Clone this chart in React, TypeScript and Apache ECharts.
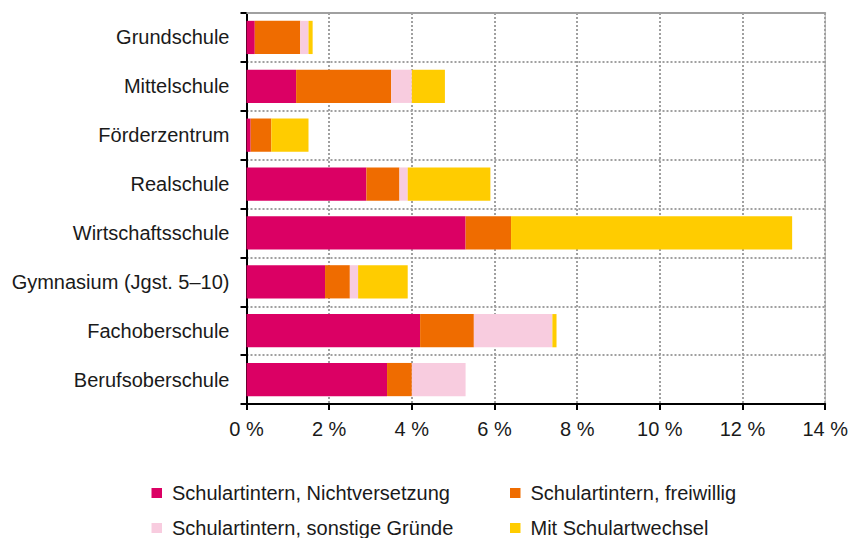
import React, { useEffect, useRef } from "react";
import * as echarts from "echarts";

const categories = [
  "Grundschule",
  "Mittelschule",
  "Förderzentrum",
  "Realschule",
  "Wirtschaftsschule",
  "Gymnasium (Jgst. 5–10)",
  "Fachoberschule",
  "Berufsoberschule",
];
const nichtversetzung = [0.2, 1.2, 0.1, 2.9, 5.3, 1.9, 4.2, 3.4];
const freiwillig = [1.1, 2.3, 0.5, 0.8, 1.1, 0.6, 1.3, 0.6];
const sonstige = [0.2, 0.5, 0, 0.2, 0, 0.2, 1.9, 1.3];
const wechsel = [0.1, 0.8, 0.9, 2.0, 6.8, 1.2, 0.1, 0];

const seriesNames = [
  "Schulartintern, Nichtversetzung",
  "Schulartintern, freiwillig",
  "Schulartintern, sonstige Gründe",
  "Mit Schulartwechsel",
];
const colors = ["#DB0064", "#EF6C00", "#F8CCDF", "#FFCC00"];
const legendPos = [
  { left: 151.5, top: 483 },
  { left: 510, top: 483 },
  { left: 151.5, top: 518 },
  { left: 510, top: 518 },
];

export default function App() {
  const ref = useRef<HTMLDivElement>(null);
  useEffect(() => {
    if (!ref.current) return;
    const chart = echarts.init(ref.current, undefined, { renderer: "svg" });
    const font = "Liberation Sans";
    const fs = 20;
    const dotted = { color: "#a0a0a0", width: 2, type: [2, 2] as any };
    const data = [nichtversetzung, freiwillig, sonstige, wechsel];
    chart.setOption({
      animation: false,
      textStyle: { fontFamily: font },
      grid: {
        left: 246.5,
        right: 25,
        top: 13,
        bottom: 134,
        show: true,
        borderColor: "#a0a0a0",
        borderWidth: 1,
      },
      legend: seriesNames.map((n, i) => ({
        ...legendPos[i],
        padding: 0,
        orient: "horizontal",
        icon: "rect",
        itemWidth: 10.5,
        itemHeight: 10,
        textStyle: {
          fontSize: fs,
          lineHeight: 20,
          color: "#1a1a1a",
          fontFamily: font,
          padding: [0, 0, 0, 5],
        },
        data: [n],
      })),
      xAxis: [
        {
          type: "value",
          min: 0,
          max: 14,
          interval: 2,
          axisLine: { show: true, lineStyle: { color: "#000", width: 2 } },
          axisTick: { show: true, length: 6, lineStyle: { color: "#000", width: 2 } },
          axisLabel: {
            fontSize: fs,
            fontFamily: font,
            color: "#1a1a1a",
            margin: 15,
            formatter: (v: number) => `${v} %`,
          },
          splitLine: { show: true, lineStyle: dotted },
        },
        {
          type: "value",
          position: "top",
          min: 0,
          max: 14,
          interval: 2,
          axisLine: { show: true, lineStyle: { color: "#a0a0a0", width: 2 } },
          axisTick: { show: false },
          axisLabel: { show: false },
          splitLine: { show: false },
        },
      ],
      yAxis: {
        type: "category",
        inverse: true,
        data: categories,
        axisLine: { show: true, lineStyle: { color: "#000", width: 2 } },
        axisTick: { show: true, length: 6, lineStyle: { color: "#000", width: 2 } },
        axisLabel: { fontSize: fs, fontFamily: font, color: "#1a1a1a", margin: 17 },
        splitLine: { show: true, lineStyle: dotted },
      },
      series: data.map((d, i) => ({
        name: seriesNames[i],
        type: "bar",
        stack: "total",
        data: d,
        barCategoryGap: "32%",
        itemStyle: { color: colors[i] },
      })),
    });
    return () => chart.dispose();
  }, []);
  return (
    <div
      ref={ref}
      style={{ position: "fixed", left: 0, top: 0, width: 851, height: 538, background: "#fff" }}
    />
  );
}
